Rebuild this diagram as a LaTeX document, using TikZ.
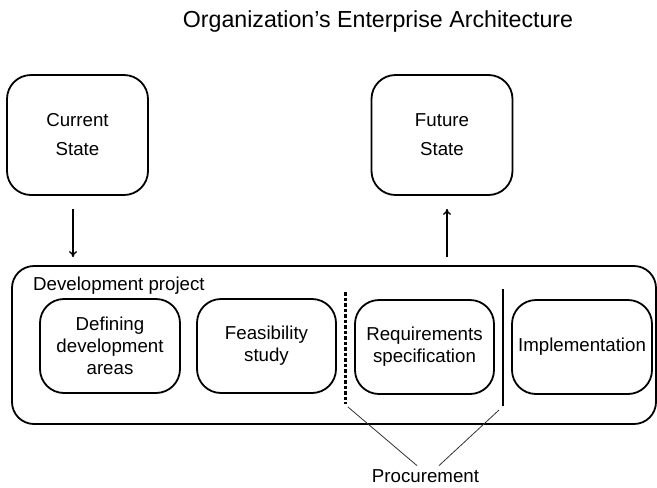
\documentclass[tikz,border=0pt]{standalone}
\usepackage{fontspec}
\setmainfont{Liberation Sans}
\usetikzlibrary{arrows.meta,positioning,calc}

\begin{document}
\begin{tikzpicture}[x=1pt, y=-1pt,
					every node/.style={font=\fontsize{18.7}{22}\selectfont},
					statebox/.style={draw, line width=1.8pt, rounded corners=24pt,
						minimum width=141pt, minimum height=120pt, align=center,
						font=\fontsize{18.7}{29}\selectfont},
					phasebox/.style={draw, line width=1.8pt, rounded corners=24pt,
						minimum width=140pt, minimum height=94pt, align=center, inner sep=0pt},
					projbox/.style={draw, line width=1.8pt, rounded corners=22pt,
						minimum width=644pt, minimum height=158pt, inner sep=0pt},
					flow/.style={-{To[length=6pt,width=8pt]}, line width=1.3pt},
					procline/.style={line width=0.8pt, black!80}
				]
				\useasboundingbox (0,0) rectangle (657,488);
				
				\node (title) [anchor=base, font=\fontsize{23.2}{27}\selectfont] at (378,27)
					{Organization’s Enterprise Architecture};
				
				\node (cur) [statebox] at (77.5,135) {Current\\State};
				\node (fut) [statebox] at (442,135) {Future\\State};
				
				\node (proj) [projbox] at (334,345) {};
				\node (projlabel) [anchor=base west, inner sep=0pt] at (33,290) {Development project};
				
				\node (def) [phasebox] at (110,346) {Defining\\development\\areas};
				\node (feas) [phasebox, minimum width=139pt] at (266.5,346) {Feasibility\\study};
				\node (req) [phasebox, minimum width=139pt] at (424.5,347) {Requirements\\specification};
				\node (impl) [phasebox] at (582,347) {Implementation};
				
				% dividers between phases
				\coordinate (dtop) at (345,292);
				\coordinate (dbot) at (345,404);
				\coordinate (stop) at (503,289);
				\coordinate (sbot) at (503,406);
				\draw[line width=3pt, dash pattern=on 3.5pt off 2pt] (dtop) -- (dbot);
				\draw[line width=1.8pt] (stop) -- (sbot);
				
				\node (proc) [anchor=base] at (425.5,482) {Procurement};
				\coordinate (pl) at (348,407);
				\coordinate (pr) at (499,410);
				\draw[procline] (pl) -- (proc.north -| 417,0);
				\draw[procline] (pr) -- (proc.north -| 439,0);
				
				\draw[flow, shorten <=13pt, shorten >=8pt]
					([xshift=-4.5pt]cur.south) -- ([xshift=-4.5pt]cur.south |- proj.north);
				\draw[flow, shorten <=8pt, shorten >=13pt]
					([xshift=5pt]fut.south |- proj.north) -- ([xshift=5pt]fut.south);
			\end{tikzpicture}
\end{document}
